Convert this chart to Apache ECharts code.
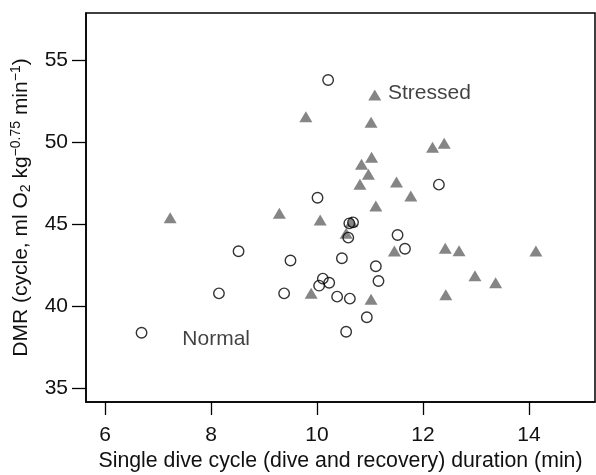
<!DOCTYPE html>
<html><head><meta charset="utf-8">
<script src="https://cdn.jsdelivr.net/npm/echarts@6/dist/echarts.min.js"></script>
<style>html,body{margin:0;padding:0;background:#fff}#c{width:596px;height:475px}</style>
</head><body><div id="c"></div>
<script>
// Data
const stressedX = [7.23, 9.29, 9.79, 9.89, 10.06, 10.55, 10.65, 10.81, 10.84, 10.97, 11.02, 11.03, 11.09, 11.02, 11.11, 11.46, 11.50, 11.77, 12.18, 12.40, 12.42, 12.43, 12.68, 12.98, 13.37, 14.13];
const stressedY = [45.38, 45.65, 51.54, 40.77, 45.24, 44.43, 45.14, 47.42, 48.64, 48.03, 51.20, 49.07, 52.87, 40.41, 46.10, 43.35, 47.56, 46.71, 49.68, 49.92, 43.52, 40.69, 43.37, 41.85, 41.42, 43.35];
const normalX = [6.69, 8.15, 8.52, 9.38, 9.50, 10.01, 10.04, 10.11, 10.21, 10.23, 10.38, 10.47, 10.55, 10.59, 10.61, 10.68, 10.62, 10.94, 11.11, 11.16, 11.52, 11.66, 12.30];
const normalY = [38.37, 40.77, 43.34, 40.77, 42.77, 46.60, 41.24, 41.67, 53.78, 41.42, 40.57, 42.91, 38.43, 44.17, 45.04, 45.10, 40.45, 39.31, 42.42, 41.52, 44.33, 43.49, 47.40];
const xTicks = [6, 8, 10, 12, 14];
const yTicks = [35, 40, 45, 50, 55];
const xTitle = 'Single dive cycle (dive and recovery) duration (min)';
const labels = [{text: 'Stressed', x: 11.34, y: 52.95}, {text: 'Normal', x: 7.46, y: 38.0}];

const FONT = '"Liberation Sans", Arial, sans-serif';
const chart = echarts.init(document.getElementById('c'), null, {renderer: 'canvas'});
const zip = (a, b) => a.map((v, i) => [v, b[i]]);
chart.setOption({
  animation: false,
  backgroundColor: '#fff',
  grid: {left: 86, top: 13, width: 509, height: 389, show: true, borderColor: '#000', borderWidth: 1.5,
         containLabel: false, outerBoundsMode: 'none'},
  xAxis: {
    type: 'value', min: 5.642, max: 15.245,
    axisLine: {show: true, onZero: false, lineStyle: {color: '#000', width: 1.5}},
    axisTick: {show: true, inside: false, length: 13, customValues: xTicks, lineStyle: {color: '#000', width: 1.3}},
    axisLabel: {show: true, customValues: xTicks, margin: 23, color: '#111', fontSize: 21, fontFamily: FONT},
    splitLine: {show: false},
    name: xTitle, nameLocation: 'middle', nameGap: 49,
    nameTextStyle: {color: '#111', fontSize: 21.3, fontFamily: FONT}
  },
  yAxis: {
    type: 'value', min: 34.146, max: 57.866,
    axisLine: {show: true, onZero: false, lineStyle: {color: '#000', width: 1.5}},
    axisTick: {show: true, inside: false, length: 14, customValues: yTicks, lineStyle: {color: '#000', width: 1.3}},
    axisLabel: {show: true, customValues: yTicks, margin: 18, color: '#111', fontSize: 21, fontFamily: FONT},
    splitLine: {show: false},
    name: '{b|DMR (cycle, ml O}{sub|2}{b| kg}{sup|−0.75}{b| min}{sup|−1}{b|)}',
    nameLocation: 'middle', nameGap: 49, nameRotate: 90,
    nameTextStyle: {
      color: '#111', fontSize: 21, fontFamily: FONT,
      rich: {
        b: {fontSize: 21, fontFamily: FONT, color: '#111', lineHeight: 26, verticalAlign: 'middle'},
        sup: {fontSize: 14, fontFamily: FONT, color: '#111', lineHeight: 26, verticalAlign: 'top', padding: [1, 0, 0, 0]},
        sub: {fontSize: 14, fontFamily: FONT, color: '#111', lineHeight: 26, verticalAlign: 'bottom', padding: [0, 0, 1, 0]}
      }
    }
  },
  series: [
    {
      type: 'scatter', name: 'Normal', data: zip(normalX, normalY),
      symbol: 'circle', symbolSize: 10.5,
      itemStyle: {color: 'rgba(255,255,255,0)', borderColor: '#000', borderWidth: 1.4},
      z: 3
    },
    {
      type: 'scatter', name: 'Stressed', data: zip(stressedX, stressedY),
      symbol: 'triangle', symbolSize: [13, 11],
      itemStyle: {color: '#666666', borderWidth: 0},
      z: 2
    },
    {
      type: 'scatter', data: labels.map(l => [l.x, l.y, l.text]),
      symbolSize: 0, silent: true,
      label: {show: true, position: 'right', distance: 0, formatter: p => p.data[2], color: '#111', fontSize: 21, fontFamily: FONT},
      z: 4
    }
  ]
});
</script></body></html>
